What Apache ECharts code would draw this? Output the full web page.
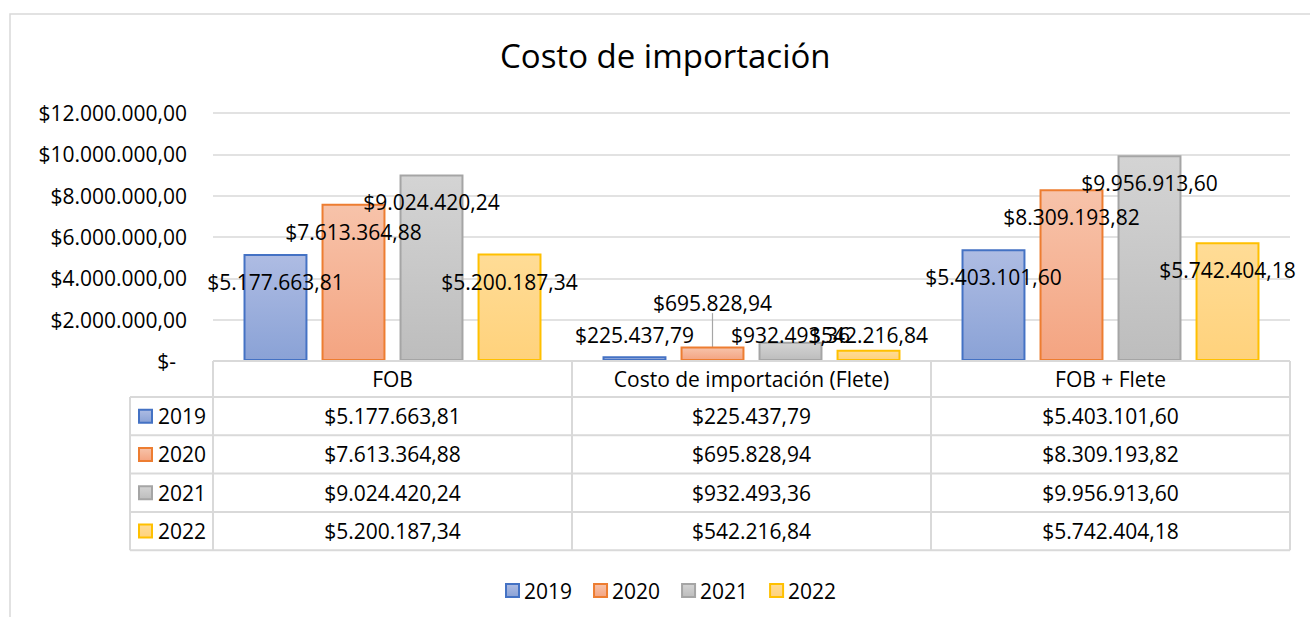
<!DOCTYPE html>
<html>
<head>
<meta charset="utf-8">
<script src="https://cdn.jsdelivr.net/npm/echarts@6/dist/echarts.min.js"></script>
<style>
html,body{margin:0;padding:0;background:#ffffff;}
#chart{width:1310px;height:617px;}
</style>
</head>
<body>
<div id="chart"></div>
<script>
// ---- data ----
const categories = ['FOB', 'Costo de importación (Flete)', 'FOB + Flete'];
const years = ['2019', '2020', '2021', '2022'];
const values2019 = [5177663.81, 225437.79, 5403101.60];
const values2020 = [7613364.88, 695828.94, 8309193.82];
const values2021 = [9024420.24, 932493.36, 9956913.60];
const values2022 = [5200187.34, 542216.84, 5742404.18];
const yMin = 0;
const yMax = 12000000;
const yStep = 2000000;

const seriesValues = [values2019, values2020, values2021, values2022];

// ---- styles ----
const FONT = '"Open Sans", "Noto Sans", sans-serif';
const FS = 21;
const TEXT = '#000000';
const LINE = '#d9d9d9';
const palette = [
  { top: '#aebce3', bottom: '#8aa2d6', border: '#4472c4' },
  { top: '#f7c3aa', bottom: '#f4a481', border: '#ed7d31' },
  { top: '#d4d4d4', bottom: '#bdbdbd', border: '#a5a5a5' },
  { top: '#ffdc96', bottom: '#ffd27c', border: '#ffc000' }
];
function grad(i) {
  return { type: 'linear', x: 0, y: 0, x2: 0, y2: 1,
    colorStops: [{ offset: 0, color: palette[i].top }, { offset: 1, color: palette[i].bottom }] };
}
// label placement tweaks keyed by "category,series"
const labelTweaks = {
  '1,0': { position: 'top', distance: 11 },
  '1,1': { position: 'top', distance: 0, dy: -34, line: true },
  '1,2': { position: 'top', distance: -3 },
  '1,3': { position: 'top', distance: 5 }
};

// layout
const GRID_LEFT = 213, GRID_RIGHT_X = 1290, GRID_TOP = 113, AXIS_Y = 361;
const W = 1310, H = 617;
const ROW_TOP = 397, ROW_H = 38.3, ROWHEAD_LEFT = 130;

function fmt(v) {
  const parts = v.toFixed(2).split('.');
  return '$' + parts[0].replace(/\B(?=(\d{3})+(?!\d))/g, '.') + ',' + parts[1];
}
function yFmt(v) { return v === 0 ? '$-  ' : fmt(v); }

// ---- table graphics ----
const graphics = [];
graphics.push({ type: 'rect', shape: { x: 10, y: 14, width: 1400, height: 700 },
  style: { fill: 'none', stroke: LINE, lineWidth: 1.5 }, silent: true, z: -10 });
const colW = (GRID_RIGHT_X - GRID_LEFT) / categories.length;
const tableBottom = ROW_TOP + ROW_H * years.length;
const lineStyle = { stroke: LINE, lineWidth: 2 };
graphics.push({ type: 'line', shape: { x1: GRID_LEFT, y1: AXIS_Y, x2: GRID_RIGHT_X, y2: AXIS_Y }, style: lineStyle, z: 5 });
for (let r = 0; r <= years.length; r++) {
  const y = ROW_TOP + r * ROW_H;
  graphics.push({ type: 'line', shape: { x1: ROWHEAD_LEFT, y1: y, x2: GRID_RIGHT_X, y2: y }, style: lineStyle, z: 5 });
}
for (let c = 0; c <= categories.length; c++) {
  const x = GRID_LEFT + c * colW;
  graphics.push({ type: 'line', shape: { x1: x, y1: AXIS_Y, x2: x, y2: tableBottom }, style: lineStyle, z: 5 });
}
graphics.push({ type: 'line', shape: { x1: ROWHEAD_LEFT, y1: ROW_TOP, x2: ROWHEAD_LEFT, y2: tableBottom }, style: lineStyle, z: 5 });
years.forEach((yr, r) => {
  const cy = ROW_TOP + r * ROW_H + ROW_H / 2;
  graphics.push({ type: 'rect', shape: { x: 139, y: cy - 6.5, width: 13, height: 13 },
    style: { fill: grad(r), stroke: palette[r].border, lineWidth: 2 }, z: 6 });
  graphics.push({ type: 'text', x: 158, y: cy,
    style: { text: yr, align: 'left', verticalAlign: 'middle', fontSize: FS, fontFamily: FONT, fill: TEXT }, z: 6 });
  categories.forEach((cat, c) => {
    graphics.push({ type: 'text', x: GRID_LEFT + c * colW + colW / 2, y: cy,
      style: { text: fmt(seriesValues[r][c]), align: 'center', verticalAlign: 'middle', fontSize: FS, fontFamily: FONT, fill: TEXT }, z: 6 });
  });
});

const chart = echarts.init(document.getElementById('chart'), null, { renderer: 'svg', width: W, height: H });

const option = {
  backgroundColor: '#ffffff',
  animation: false,
  title: {
    text: 'Costo de importación',
    left: 500, top: 39, padding: 0,
    textStyle: { fontFamily: FONT, fontSize: 33, fontWeight: 'normal', color: TEXT, lineHeight: 33 }
  },
  grid: { left: GRID_LEFT, right: W - GRID_RIGHT_X, top: GRID_TOP, bottom: H - AXIS_Y, containLabel: false, outerBoundsMode: 'none' },
  legend: {
    data: years, left: 500, top: 575, itemWidth: 13, itemHeight: 13, itemGap: 21, icon: 'rect',
    selectedMode: false,
    textStyle: { fontFamily: FONT, fontSize: FS, color: TEXT }
  },
  xAxis: {
    type: 'category', data: categories,
    axisTick: { show: false }, axisLine: { show: false },
    axisLabel: { interval: 0, margin: 7, fontFamily: FONT, fontSize: FS, lineHeight: 21, color: TEXT }
  },
  yAxis: {
    type: 'value', min: yMin, max: yMax, interval: yStep,
    axisLine: { show: false }, axisTick: { show: false },
    axisLabel: { formatter: yFmt, margin: 26, fontFamily: FONT, fontSize: FS, color: TEXT },
    splitLine: { lineStyle: { color: LINE, width: 1.5 } }
  },
  series: years.map((yr, si) => ({
    name: yr, type: 'bar',
    barGap: '22%', barCategoryGap: '17%',
    itemStyle: { color: grad(si), borderColor: palette[si].border, borderWidth: 2 },
    emphasis: { disabled: true },
    label: {
      show: true, position: 'insideTop', distance: 18, offset: [2, 0],
      formatter: p => fmt(p.value),
      fontFamily: FONT, fontSize: FS, lineHeight: 20, color: TEXT
    },
    labelLine: { show: false, lineStyle: { color: '#a6a6a6', width: 1.2 } },
    labelLayout: p => {
      const t = labelTweaks[p.dataIndex + ',' + si];
      return t && t.dy ? { dy: t.dy } : {};
    },
    data: seriesValues[si].map((v, ci) => {
      const t = labelTweaks[ci + ',' + si];
      const item = { value: v };
      if (t) {
        item.label = { position: t.position, distance: t.distance, offset: [0, 0] };
        if (t.line) item.labelLine = { show: true, lineStyle: { color: '#a6a6a6', width: 1.2 } };
      }
      return item;
    })
  })),
  graphic: graphics
};
chart.setOption(option);
</script>
</body>
</html>
